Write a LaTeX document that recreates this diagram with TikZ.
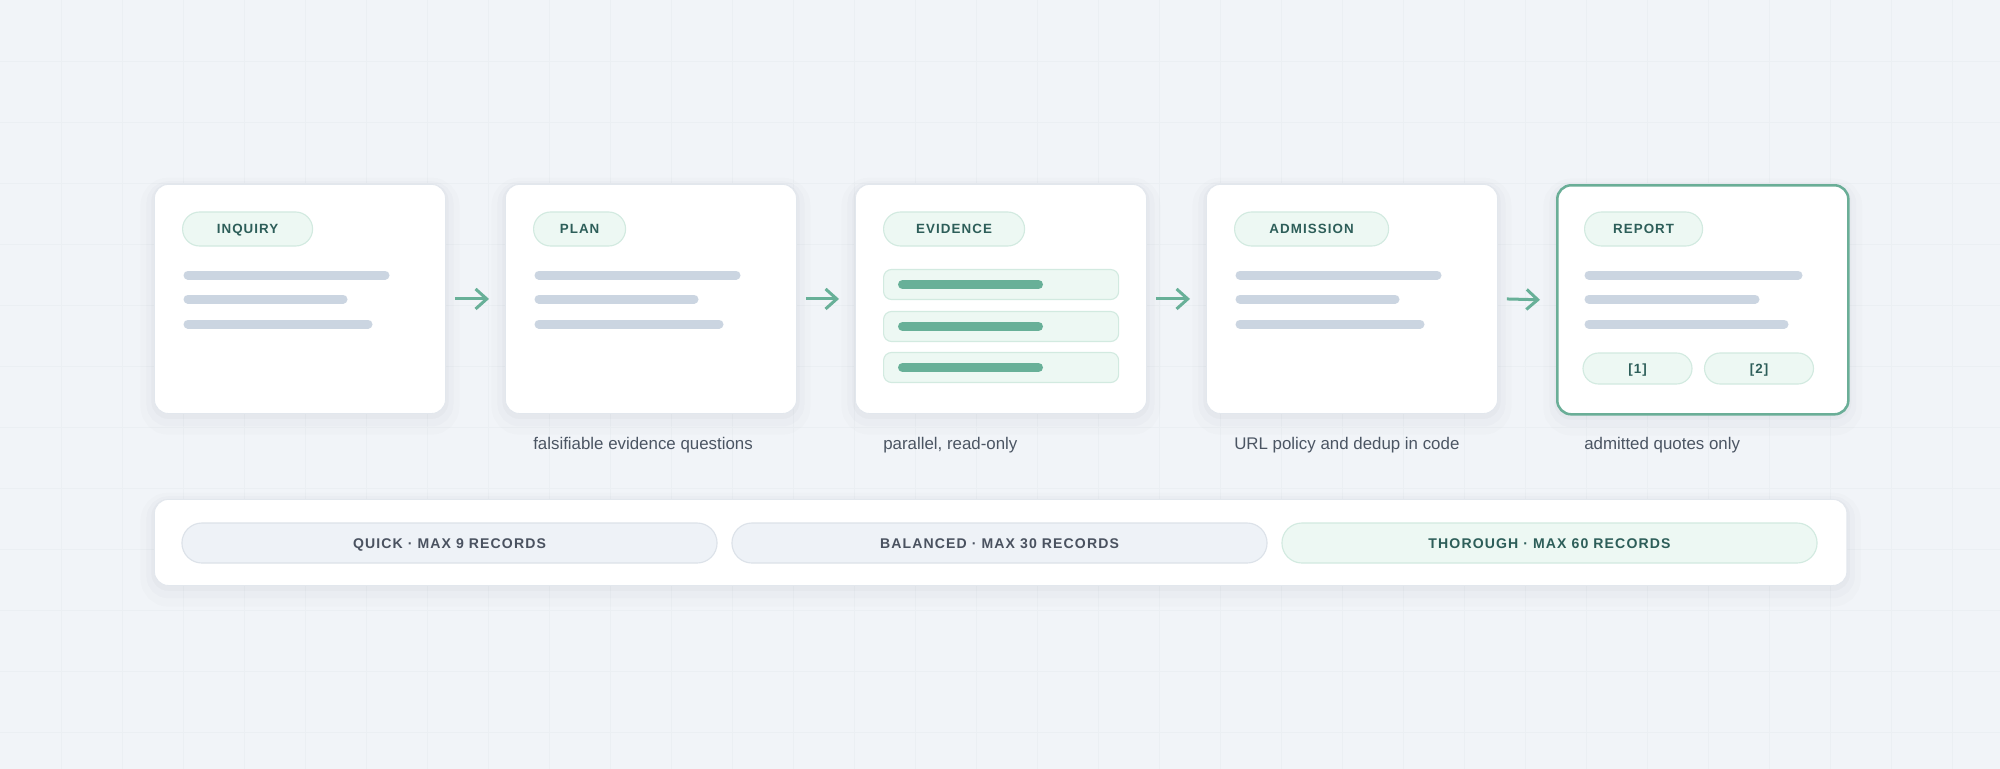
\documentclass[tikz,border=0pt]{standalone}
\usepackage{fontspec}
\setmainfont{Liberation Sans}
\newfontfamily\tagfont[LetterSpace=8]{Liberation Sans}
\definecolor{pagebg}{RGB}{241, 244, 248}
\definecolor{gridline}{RGB}{235, 239, 243}
\definecolor{cardline}{RGB}{226, 231, 237}
\definecolor{shadowcol}{RGB}{30, 41, 59}
\definecolor{tagfill}{RGB}{237, 248, 243}
\definecolor{tagline}{RGB}{210, 234, 224}
\definecolor{tagtext}{RGB}{45, 94, 89}
\definecolor{barfill}{RGB}{203, 213, 225}
\definecolor{hitgreen}{RGB}{104, 176, 152}
\definecolor{reportline}{RGB}{106, 174, 151}
\definecolor{notetext}{RGB}{75, 85, 99}
\definecolor{modefill}{RGB}{238, 242, 247}
\definecolor{modeline}{RGB}{220, 226, 233}
\definecolor{modetext}{RGB}{74, 82, 96}
\usetikzlibrary{arrows.meta, positioning}

\begin{document}
\begin{tikzpicture}[x=0.025cm, y=-0.025cm,
  softshadow/.style={
    preaction={draw=shadowcol, draw opacity=0.012, line width=0.7cm,
      transform canvas={yshift=-0.18cm}},
    preaction={draw=shadowcol, draw opacity=0.016, line width=0.4cm,
      transform canvas={yshift=-0.12cm}},
    preaction={draw=shadowcol, draw opacity=0.022, line width=0.15cm,
      transform canvas={yshift=-0.06cm}}},
  card/.style={softshadow, draw=cardline, line width=0.6pt, fill=white,
    rounded corners=0.35cm, minimum width=7.275cm, minimum height=5.725cm,
    anchor=north west, inner sep=0pt},
  stagetag/.style={draw=tagline, line width=0.8pt, fill=tagfill,
    rounded corners=0.425cm, minimum height=0.85cm, inner sep=0pt,
    text height=6.8pt, text depth=0pt,
    anchor=west, text=tagtext, font=\tagfont\bfseries\fontsize{9.5}{11}\selectfont},
  citetag/.style={stagetag, anchor=center, minimum width=2.725cm,
    minimum height=0.775cm, rounded corners=0.39cm},
  hitbox/.style={draw=tagline, line width=0.8pt, fill=tagfill,
    rounded corners=0.2cm, minimum width=5.875cm, minimum height=0.75cm,
    anchor=west, inner sep=0pt},
  textbar/.style={draw=barfill, line width=0.225cm, line cap=round},
  hitbar/.style={draw=hitgreen, line width=0.225cm, line cap=round},
  flow/.style={draw=hitgreen, line width=0.075cm,
    -{Straight Barb[length=0.28cm, width=0.5cm]}},
  note/.style={anchor=west, inner sep=0pt, text=notetext,
    font=\fontsize{12}{14}\selectfont},
  modetag/.style={draw=modeline, line width=0.8pt, fill=modefill,
    rounded corners=0.5cm, minimum width=13.375cm, minimum height=1cm,
    inner sep=0pt, text height=7.2pt, text depth=0pt,
    text=modetext, font=\tagfont\bfseries\fontsize{10}{12}\selectfont}]

  % Background and grid
  \useasboundingbox (0, 0) rectangle (2000, 769);
  \fill[pagebg] (0, 0) rectangle (2000, 769);
  \foreach \gx in {61, 122, ..., 1990}
    \draw[gridline, line width=0.5pt] (\gx, 0) -- (\gx, 769);
  \foreach \gy in {61, 122, ..., 769}
    \draw[gridline, line width=0.5pt] (0, \gy) -- (2000, \gy);

  % Stage cards
  \node[card] (inquiry) at (154, 184) {};
  \node[card] (plan) at (505, 184) {};
  \node[card] (evidence) at (855, 184) {};
  \node[card] (admission) at (1206, 184) {};
  \node[card, draw=reportline, line width=1.8pt] (report) at (1556, 184) {};

  % Stage tags
  \node[stagetag, minimum width=3.25cm] (inquirytag) at (182, 229) {INQUIRY};
  \node[stagetag, minimum width=2.3cm] (plantag) at (533, 229) {PLAN};
  \node[stagetag, minimum width=3.525cm] (evidencetag) at (883, 229) {EVIDENCE};
  \node[stagetag, minimum width=3.85cm] (admissiontag) at (1234, 229) {ADMISSION};
  \node[stagetag, minimum width=2.95cm] (reporttag) at (1584, 229) {REPORT};

  % Text lines
  \draw[textbar] (188, 275) -- (385, 275);
  \draw[textbar] (188, 299) -- (343, 299);
  \draw[textbar] (188, 324) -- (368, 324);

  \draw[textbar] (539, 275) -- (736, 275);
  \draw[textbar] (539, 299) -- (694, 299);
  \draw[textbar] (539, 324) -- (719, 324);

  \draw[textbar] (1240, 275) -- (1437, 275);
  \draw[textbar] (1240, 299) -- (1395, 299);
  \draw[textbar] (1240, 324) -- (1420, 324);

  \draw[textbar] (1589, 275) -- (1798, 275);
  \draw[textbar] (1589, 299) -- (1755, 299);
  \draw[textbar] (1589, 324) -- (1784, 324);

  % Evidence hits
  \node[hitbox] (hit1) at (883, 284.5) {};
  \node[hitbox] (hit2) at (883, 326.5) {};
  \node[hitbox] (hit3) at (883, 367.5) {};
  \draw[hitbar] (902.5, 284.5) -- (1038.5, 284.5);
  \draw[hitbar] (902.5, 326.5) -- (1038.5, 326.5);
  \draw[hitbar] (902.5, 367.5) -- (1038.5, 367.5);

  % Citations
  \node[citetag] (cite1) at (1637.5, 368.5) {[1]};
  \node[citetag] (cite2) at (1759, 368.5) {[2]};

  % Flow arrows
  \draw[flow] ([xshift=0.225cm]inquiry.east) -- ([xshift=-0.4cm]plan.west);
  \draw[flow] ([xshift=0.225cm]plan.east) -- ([xshift=-0.4cm]evidence.west);
  \draw[flow] ([xshift=0.225cm]evidence.east) -- ([xshift=-0.4cm]admission.west);
  \draw[flow] ([xshift=0.225cm]admission.east) -- ([xshift=-0.4cm]report.west);

  % Notes
  \node[note] (plannote) at (533, 445) {falsifiable evidence questions};
  \node[note] (evidencenote) at (883, 445) {parallel, read-only};
  \node[note] (admissionnote) at (1234, 445) {URL policy and dedup in code};
  \node[note] (reportnote) at (1584, 445) {admitted quotes only};

  % Depth modes
  \node[card, minimum width=42.3cm, minimum height=2.15cm] (modes) at (154, 499) {};
  \node[modetag] (quick) at (449.5, 543) {QUICK · MAX 9 RECORDS};
  \node[modetag] (balanced) at (999.5, 543) {BALANCED · MAX 30 RECORDS};
  \node[modetag, draw=tagline, fill=tagfill, text=tagtext] (thorough) at (1549.5, 543) {THOROUGH · MAX 60 RECORDS};
\end{tikzpicture}
\end{document}
